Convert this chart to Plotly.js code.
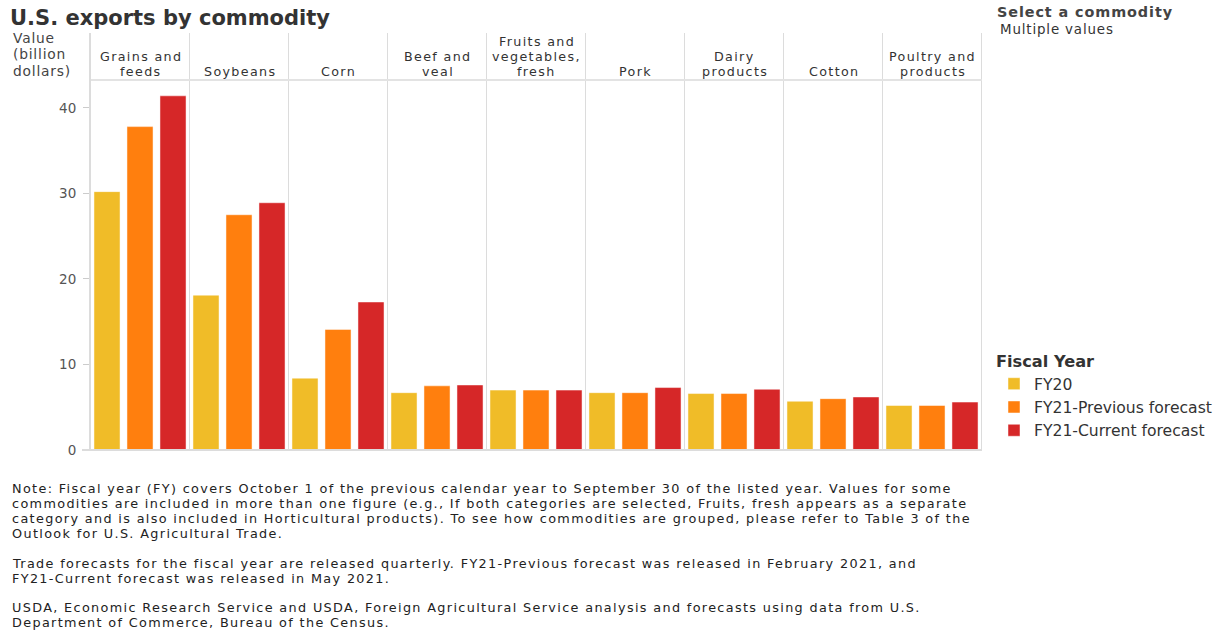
<!DOCTYPE html>
<html><head><meta charset="utf-8">
<script src="https://cdn.plot.ly/plotly-3.0.1.min.js"></script>
<style>html,body{margin:0;padding:0;background:#fff;}#chart{width:1228px;height:632px;}</style>
</head><body><div id="chart"></div>
<script>
const categories = ["Grains and feeds","Soybeans","Corn","Beef and veal","Fruits and vegetables, fresh","Pork","Dairy products","Cotton","Poultry and products"];
const categoryLines = [["Grains and","feeds"],["Soybeans"],["Corn"],["Beef and","veal"],["Fruits and","vegetables,","fresh"],["Pork"],["Dairy","products"],["Cotton"],["Poultry and","products"]];
const seriesNames = ["FY20","FY21-Previous forecast","FY21-Current forecast"];
const fy20 = [30.2, 18.1, 8.4, 6.7, 7.0, 6.7, 6.6, 5.7, 5.2];
const fy21Prev = [37.8, 27.5, 14.1, 7.5, 7.0, 6.7, 6.6, 6.0, 5.2];
const fy21Curr = [41.4, 28.9, 17.3, 7.6, 7.0, 7.3, 7.1, 6.2, 5.6];
const yTicks = [0, 10, 20, 30, 40];
const noteParagraphs = [
  ["Note: Fiscal year (FY) covers October 1 of the previous calendar year to September 30 of the listed year. Values for some",
   "commodities are included in more than one figure (e.g., If both categories are selected, Fruits, fresh appears as a separate",
   "category and is also included in Horticultural products). To see how commodities are grouped, please refer to Table 3 of the",
   "Outlook for U.S. Agricultural Trade."],
  ["Trade forecasts for the fiscal year are released quarterly. FY21-Previous forecast was released in February 2021, and",
   "FY21-Current forecast was released in May 2021."],
  ["USDA, Economic Research Service and USDA, Foreign Agricultural Service analysis and forecasts using data from U.S.",
   "Department of Commerce, Bureau of the Census."]
];
const colors = ["#F0BC28", "#FF7F0E", "#D62728"];

const F = "DejaVu Sans, Liberation Sans, sans-serif";
const L = 90, R = 246, T = 80, B = 182, W = 1228, H = 632;
const pw = W - L - R, ph = H - T - B;
const px = v => (v - L) / pw;
const py = v => (H - B - v) / ph;

const traces = [fy20, fy21Prev, fy21Curr].map((vals, i) => ({
  type: "bar", x: categories, y: vals, name: seriesNames[i],
  marker: {color: colors[i], line: {color: "rgba(255,255,255,0.6)", width: 0.8}},
  hoverinfo: "x+y+name"
}));

const shapes = [];
for (let i = 0; i <= categories.length; i++) {
  shapes.push({type: "line", xref: "x", yref: "paper", x0: i - 0.5, x1: i - 0.5,
    y0: 0, y1: py(33), line: {color: "#dcdcdc", width: 1}});
}
shapes.push({type: "line", xref: "paper", yref: "paper", x0: 0, x1: 1, y0: 1, y1: 1, line: {color: "#e3e3e3", width: 2}});
shapes.push({type: "line", xref: "paper", yref: "paper", x0: px(82), x1: 1, y0: 0, y1: 0, line: {color: "#dcdcdc", width: 2}});
shapes.push({type: "line", xref: "paper", yref: "paper", x0: 0, x1: 0, y0: 0, y1: py(33), line: {color: "#dcdcdc", width: 2}});

const annotations = [];
function txt(text, x, y, size, opts) {
  opts = opts || {};
  const t = opts.ls ? '<span style="letter-spacing:' + opts.ls + 'px">' + text + '</span>' : text;
  annotations.push({text: t, xref: opts.xref || "paper", yref: "paper",
    x: opts.xref ? x : px(x), y: py(y), xanchor: opts.xanchor || "left", yanchor: "middle",
    xshift: opts.xshift || 0, borderpad: 0,
    showarrow: false, font: {family: F, size: size, color: opts.color || "#333", weight: opts.bold ? 700 : 400}});
}
txt("U.S. exports by commodity", 9, 18, 21, {bold: true, color: "#333"});
["Value", "(billion", "dollars)"].forEach((s, i) => txt(s, 12, 38 + i * 16.5, 13.8, {color: "#444", ls: 0.8}));
txt("Select a commodity", 996, 12.5, 14.4, {bold: true, color: "#444", ls: 0.9});
txt("Multiple values", 999, 29, 13.4, {color: "#333", ls: 0.85});
categoryLines.forEach((lines, ci) => {
  const n = lines.length;
  lines.forEach((s, li) => txt(s, categories[ci], 71.5 - (n - 1 - li) * 14.8, 12.7,
    {xref: "x", xanchor: "center", color: "#333", ls: 1.35, xshift: 0.7}));
});
let yy = 488;
noteParagraphs.forEach((para, pi) => {
  para.forEach(line => { txt(line, 11, yy, 12.8, {color: "#222", ls: 1.35}); yy += 15; });
  yy += pi === 0 ? 15 : 14;
});

const layout = {
  width: W, height: H,
  margin: {l: L, r: R, t: T, b: B, pad: 0},
  paper_bgcolor: "#fff", plot_bgcolor: "#fff",
  barmode: "group", bargap: 0, bargroupgap: 0.21,
  showlegend: true,
  legend: {xref: "container", yref: "container", x: 994 / W, y: 1 - 346 / H, xanchor: "left", yanchor: "top",
    title: {text: "<b>Fiscal Year</b>", font: {family: F, size: 16.2, color: "#333"}},
    font: {family: F, size: 15.6, color: "#333"}, itemwidth: 30},
  xaxis: {type: "category", showticklabels: false, showgrid: false, zeroline: false, showline: false,
    ticks: "", fixedrange: true},
  yaxis: {range: [0, 43.25], tickvals: yTicks, showgrid: false, zeroline: false, showline: false,
    ticks: "outside", ticklen: 6, tickcolor: "#ccc", tickfont: {family: F, size: 13.5, color: "#555"},
    ticklabelstandoff: 4, fixedrange: true},
  shapes: shapes, annotations: annotations
};

Plotly.newPlot("chart", traces, layout, {displayModeBar: false, responsive: false});
</script></body></html>
